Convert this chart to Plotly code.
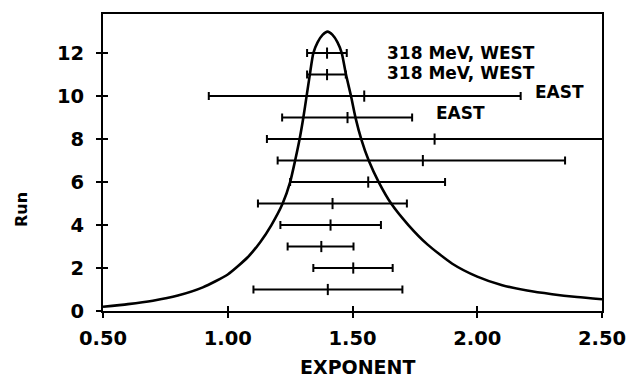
import plotly.graph_objects as go

# Data
runs = [1, 2, 3, 4, 5, 6, 7, 8, 9, 10, 11, 12]
exponent = [1.401, 1.503, 1.375, 1.412, 1.420, 1.563, 1.782, 1.829, 1.480, 1.547, 1.398, 1.398]
err_low = [1.103, 1.343, 1.240, 1.211, 1.121, 1.250, 1.200, 1.157, 1.218, 0.924, 1.318, 1.318]
err_high = [1.700, 1.661, 1.504, 1.614, 1.718, 1.871, 2.352, 2.750, 1.739, 2.174, 1.473, 1.477]

curve_x = [0.50, 0.60, 0.70, 0.80, 0.90, 1.00, 1.08, 1.13, 1.175, 1.22, 1.25, 1.27,
           1.288, 1.303, 1.316, 1.329, 1.343, 1.36, 1.38, 1.40, 1.42, 1.44, 1.457,
           1.474, 1.494, 1.512, 1.535, 1.565, 1.605, 1.655, 1.724, 1.80, 1.90, 2.00,
           2.10, 2.20, 2.30, 2.40, 2.50]
curve_y = [0.20, 0.32, 0.48, 0.72, 1.10, 1.70, 2.50, 3.20, 4.00, 5.00, 6.00, 7.00,
           8.00, 9.00, 10.0, 11.0, 12.0, 12.5, 12.85, 13.0, 12.85, 12.5, 12.0,
           11.0, 10.0, 9.00, 8.00, 7.00, 6.00, 5.00, 4.00, 3.10, 2.20, 1.60,
           1.20, 0.95, 0.78, 0.65, 0.55]

labels = ["318 MeV, WEST", "318 MeV, WEST", "EAST", "EAST"]
label_x = [1.630, 1.630, 2.224, 1.825]
label_y = [12.0, 11.07, 10.2, 9.2]

FONT = "DejaVu Sans"

fig = go.Figure()

fig.add_trace(go.Scatter(
    x=curve_x, y=curve_y, mode="lines",
    line=dict(color="black", width=2.6, shape="spline", smoothing=0.6),
    showlegend=False, hoverinfo="skip"))

fig.add_trace(go.Scatter(
    x=exponent, y=runs, mode="markers",
    marker=dict(symbol="line-ns", size=8, line=dict(color="black", width=2)),
    error_x=dict(type="data", symmetric=False,
                 array=[h - c for h, c in zip(err_high, exponent)],
                 arrayminus=[c - l for c, l in zip(exponent, err_low)],
                 color="black", thickness=2, width=4),
    showlegend=False))

# dummy trace to draw inward tick halves
fig.add_trace(go.Scatter(x=[None], y=[None], xaxis="x2", yaxis="y2", showlegend=False))

for t, xv, yv in zip(labels, label_x, label_y):
    fig.add_annotation(x=xv, y=yv, text="<b>" + t + "</b>", showarrow=False,
                       xanchor="left", yanchor="middle",
                       font=dict(family=FONT, size=17, color="black"))

fig.add_annotation(xref="paper", yref="paper", x=(357 - 103) / 499, y=(311 - 367) / 297,
                   text="<b>EXPONENT</b>", showarrow=False, xanchor="center", yanchor="middle",
                   font=dict(family=FONT, size=19, color="black"))
fig.add_annotation(xref="paper", yref="paper", x=(21 - 103) / 499, y=(311 - 210) / 297,
                   text="<b>Run</b>", showarrow=False, textangle=-90,
                   xanchor="center", yanchor="middle",
                   font=dict(family=FONT, size=16, color="black"))

XR = [0.5, 2.5]
YR = [0, 13.82]
fig.update_layout(
    width=641, height=378,
    margin=dict(l=103, r=39, t=14, b=67),
    paper_bgcolor="white", plot_bgcolor="white",
    font=dict(family=FONT, color="black"),
    xaxis=dict(range=XR, tickvals=[0.5, 1.0, 1.5, 2.0, 2.5],
               ticktext=["<b>0.50</b>", "<b>1.00</b>", "<b>1.50</b>", "<b>2.00</b>", "<b>2.50</b>"],
               ticks="outside", ticklen=5, tickwidth=2, tickcolor="black",
               showline=True, linewidth=2, linecolor="black", mirror=True,
               showgrid=False, zeroline=False, ticklabelstandoff=4,
               tickfont=dict(family=FONT, size=19.5, color="black")),
    yaxis=dict(range=YR, tickvals=[0, 2, 4, 6, 8, 10, 12],
               ticktext=["<b>%d</b>" % v for v in [0, 2, 4, 6, 8, 10, 12]],
               ticks="outside", ticklen=5, tickwidth=2, tickcolor="black",
               showline=True, linewidth=2, linecolor="black", mirror=True,
               showgrid=False, zeroline=False, ticklabelstandoff=8,
               tickfont=dict(family=FONT, size=19.5, color="black")),
    xaxis2=dict(range=XR, overlaying="x", anchor="y2", side="bottom",
                tickvals=[0.5, 1.0, 1.5, 2.0, 2.5], ticks="inside", ticklen=5, tickwidth=2,
                tickcolor="black", showticklabels=False, showline=False, showgrid=False,
                zeroline=False),
    yaxis2=dict(range=YR, overlaying="y", anchor="x2", side="left",
                tickvals=[0, 2, 4, 6, 8, 10, 12], ticks="inside", ticklen=5, tickwidth=2,
                tickcolor="black", showticklabels=False, showline=False, showgrid=False,
                zeroline=False),
)

fig.write_html("out.html")
